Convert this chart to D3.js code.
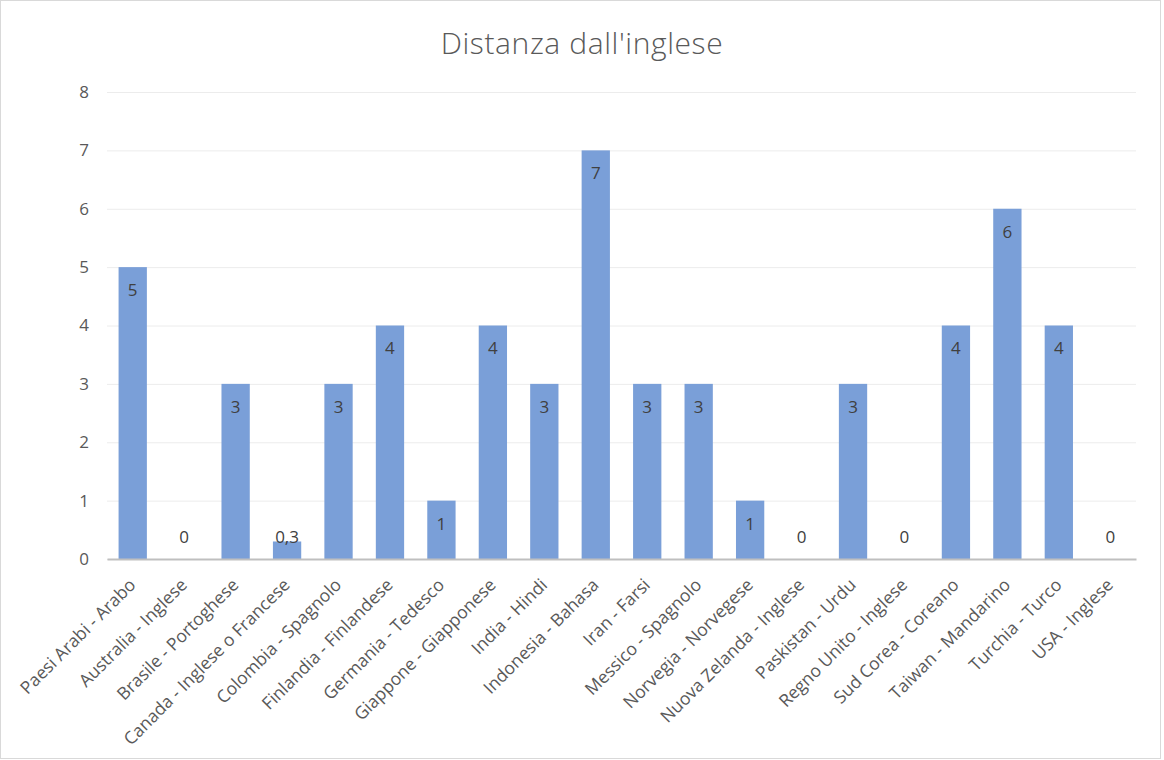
<!DOCTYPE html>
<html>
<head>
<meta charset="utf-8">
<script src="https://cdn.jsdelivr.net/npm/d3@7"></script>
<style>
  body { margin: 0; background: #fff; }
  text { font-family: "Open Sans", "DejaVu Sans", sans-serif; }
</style>
</head>
<body>
<div id="chart"></div>
<script>
// chart data
const categories = [
    "Paesi Arabi - Arabo", "Australia - Inglese", "Brasile - Portoghese",
    "Canada - Inglese o Francese", "Colombia - Spagnolo", "Finlandia - Finlandese",
    "Germania - Tedesco", "Giappone - Giapponese", "India - Hindi",
    "Indonesia - Bahasa", "Iran - Farsi", "Messico - Spagnolo",
    "Norvegia - Norvegese", "Nuova Zelanda - Inglese", "Paskistan - Urdu",
    "Regno Unito - Inglese", "Sud Corea - Coreano", "Taiwan - Mandarino",
    "Turchia - Turco", "USA - Inglese"
];
const values = [5, 0, 3, 0.3, 3, 4, 1, 4, 3, 7, 3, 3, 1, 0, 3, 0, 4, 6, 4, 0];
const yTicks = [0, 1, 2, 3, 4, 5, 6, 7, 8];

const width = 1164, height = 760;
const margin = { top: 92, right: 28, bottom: 201, left: 107 };
const innerW = width - margin.left - margin.right;
const innerH = height - margin.top - margin.bottom;

const svg = d3.select("#chart")
    .append("svg")
    .attr("width", width)
    .attr("height", height);

// outer frame
svg.append("rect")
    .attr("x", 0.5).attr("y", 0.5)
    .attr("width", 1160).attr("height", 758)
    .attr("fill", "#fff")
    .attr("stroke", "#d9d9d9");

svg.append("text")
    .attr("x", 582).attr("y", 54)
    .attr("text-anchor", "middle")
    .attr("font-size", 30)
    .attr("font-weight", 300)
    .attr("letter-spacing", 0.6)
    .attr("fill", "#595959")
    .text("Distanza dall'inglese");

const g = svg.append("g")
    .attr("transform", `translate(${margin.left},${margin.top})`);

const x = d3.scaleBand().domain(categories).range([0, innerW]).paddingInner(0.45).paddingOuter(0.225);
const y = d3.scaleLinear().domain([0, 8]).range([innerH, 0]);

// gridlines
g.append("g")
    .call(d3.axisLeft(y).tickValues(yTicks).tickSize(-innerW).tickFormat(""))
    .call(a => a.select(".domain").remove())
    .call(a => a.selectAll("line").attr("stroke", "#ececec").attr("stroke-width", 1));

// y labels
g.append("g")
    .call(d3.axisLeft(y).tickValues(yTicks).tickSize(0).tickPadding(18))
    .call(a => a.select(".domain").remove())
    .call(a => a.selectAll("text")
        .attr("font-size", 17)
        .attr("fill", "#595959")
        .attr("text-anchor", "middle")
        .attr("dx", "-5"));

// bars
g.selectAll("rect.bar")
    .data(values)
    .enter()
    .append("rect")
    .attr("class", "bar")
    .attr("x", (d, i) => x(categories[i]))
    .attr("y", d => y(d))
    .attr("width", x.bandwidth())
    .attr("height", d => innerH - y(d))
    .attr("fill", "#7a9fd8");

// x axis
g.append("g")
    .attr("transform", `translate(0,${innerH})`)
    .call(d3.axisBottom(x).tickSize(0))
    .call(a => a.select(".domain").attr("stroke", "#bfbfbf").attr("stroke-width", 2))
    .call(a => a.selectAll("text")
        .attr("font-size", 17.5)
        .attr("fill", "#595959")
        .attr("text-anchor", "end")
        .attr("y", 0)
        .attr("dy", 0)
        .attr("transform", "translate(4,27) rotate(-45)"));

// value labels
g.selectAll("text.val")
    .data(values)
    .enter()
    .append("text")
    .attr("class", "val")
    .attr("x", (d, i) => x(categories[i]) + x.bandwidth() / 2)
    .attr("y", d => Math.min(y(d) + 23, innerH - 22))
    .attr("dy", "0.35em")
    .attr("text-anchor", "middle")
    .attr("font-size", 17)
    .attr("fill", "#404040")
    .text(d => String(d).replace(".", ","));
</script>
</body>
</html>
